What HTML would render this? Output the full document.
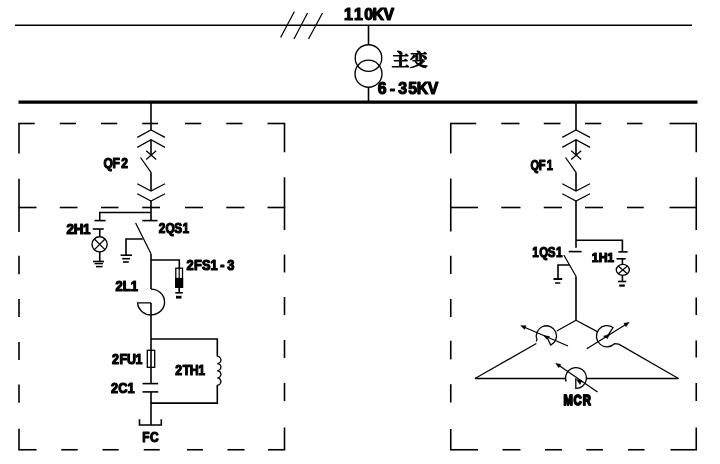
<!DOCTYPE html>
<html lang="zh">
<head>
<meta charset="utf-8">
<title>MCR</title>
<style>
html,body{margin:0;padding:0;background:#fff;}
body{width:720px;height:464px;overflow:hidden;}
svg{display:block;will-change:transform;}
svg line,svg polyline,svg path,svg ellipse,svg rect,svg polygon{stroke:#000;}
svg text{paint-order:stroke fill;}
.lb{font-family:"Liberation Sans","Noto Sans CJK SC",sans-serif;font-weight:bold;fill:#000;stroke:#000;stroke-linejoin:round;}
.cj{font-family:"Liberation Serif","Noto Serif CJK SC","Noto Sans CJK SC",serif;font-weight:bold;fill:#000;stroke:#000;stroke-linejoin:round;}
</style>
</head>
<body>
<svg width="720" height="464" viewBox="0 0 720 464">
<rect x="0" y="0" width="720" height="464" fill="#fff" stroke="none" style="stroke:none"/>
<g stroke-linecap="butt" stroke-linejoin="miter">
<line x1="15" y1="25.2" x2="692" y2="25.2" stroke-width="1.6"/>
<line x1="18.5" y1="102.1" x2="697.5" y2="102.1" stroke-width="3.2"/>
<line x1="280.6" y1="37.5" x2="294.4" y2="11.5" stroke-width="1.25"/>
<line x1="294" y1="39" x2="307.5" y2="13" stroke-width="1.25"/>
<line x1="308.5" y1="39" x2="322.5" y2="13" stroke-width="1.25"/>
<line x1="368.5" y1="25" x2="368.5" y2="44.5" stroke-width="1.6"/>
<ellipse cx="368.5" cy="58" rx="13.3" ry="13.3" stroke-width="1.35" fill="none"/>
<ellipse cx="368.5" cy="73.7" rx="13.5" ry="13.5" stroke-width="1.35" fill="none"/>
<line x1="368.5" y1="87.3" x2="368.5" y2="101" stroke-width="1.6"/>
<line x1="18.3" y1="123.5" x2="34.75" y2="123.5" stroke-width="1.6"/>
<line x1="59.75" y1="123.5" x2="76" y2="123.5" stroke-width="1.6"/>
<line x1="101" y1="123.5" x2="117.25" y2="123.5" stroke-width="1.6"/>
<line x1="142.25" y1="123.5" x2="158" y2="123.5" stroke-width="1.6"/>
<line x1="185" y1="123.5" x2="201.25" y2="123.5" stroke-width="1.6"/>
<line x1="226.25" y1="123.5" x2="242.5" y2="123.5" stroke-width="1.6"/>
<line x1="267.5" y1="123.5" x2="285.2" y2="123.5" stroke-width="1.6"/>
<line x1="18.3" y1="207.5" x2="36.5" y2="207.5" stroke-width="1.6"/>
<line x1="59.75" y1="207.5" x2="77.5" y2="207.5" stroke-width="1.6"/>
<line x1="101" y1="207.5" x2="118.5" y2="207.5" stroke-width="1.6"/>
<line x1="142.25" y1="207.5" x2="160" y2="207.5" stroke-width="1.6"/>
<line x1="185" y1="207.5" x2="203" y2="207.5" stroke-width="1.6"/>
<line x1="226.25" y1="207.5" x2="244.5" y2="207.5" stroke-width="1.6"/>
<line x1="267.5" y1="207.5" x2="285.2" y2="207.5" stroke-width="1.6"/>
<line x1="18.3" y1="449.75" x2="36.5" y2="449.75" stroke-width="1.6"/>
<line x1="61.25" y1="449.75" x2="77.75" y2="449.75" stroke-width="1.6"/>
<line x1="102.5" y1="449.75" x2="118.75" y2="449.75" stroke-width="1.6"/>
<line x1="143.75" y1="449.75" x2="159.75" y2="449.75" stroke-width="1.6"/>
<line x1="187" y1="449.75" x2="203" y2="449.75" stroke-width="1.6"/>
<line x1="227.5" y1="449.75" x2="244.5" y2="449.75" stroke-width="1.6"/>
<line x1="268" y1="449.75" x2="285.2" y2="449.75" stroke-width="1.6"/>
<line x1="19" y1="123.5" x2="19" y2="153.5" stroke-width="1.6"/>
<line x1="19" y1="178.75" x2="19" y2="232" stroke-width="1.6"/>
<line x1="19" y1="255.75" x2="19" y2="274.25" stroke-width="1.6"/>
<line x1="19" y1="299" x2="19" y2="317" stroke-width="1.6"/>
<line x1="19" y1="342" x2="19" y2="360" stroke-width="1.6"/>
<line x1="19" y1="384.5" x2="19" y2="402.75" stroke-width="1.6"/>
<line x1="19" y1="428.75" x2="19" y2="449.75" stroke-width="1.6"/>
<line x1="284.5" y1="123.5" x2="284.5" y2="152.25" stroke-width="1.6"/>
<line x1="284.5" y1="177.25" x2="284.5" y2="230" stroke-width="1.6"/>
<line x1="284.5" y1="254.5" x2="284.5" y2="272.5" stroke-width="1.6"/>
<line x1="284.5" y1="297" x2="284.5" y2="315" stroke-width="1.6"/>
<line x1="284.5" y1="340" x2="284.5" y2="358" stroke-width="1.6"/>
<line x1="284.5" y1="383" x2="284.5" y2="401" stroke-width="1.6"/>
<line x1="284.5" y1="427.5" x2="284.5" y2="449.75" stroke-width="1.6"/>
<line x1="450.05" y1="123.5" x2="476.25" y2="123.5" stroke-width="1.6"/>
<line x1="501.25" y1="123.5" x2="519.5" y2="123.5" stroke-width="1.6"/>
<line x1="543.75" y1="123.5" x2="560.5" y2="123.5" stroke-width="1.6"/>
<line x1="585" y1="123.5" x2="601.25" y2="123.5" stroke-width="1.6"/>
<line x1="627" y1="123.5" x2="642.5" y2="123.5" stroke-width="1.6"/>
<line x1="669.5" y1="123.5" x2="696.95" y2="123.5" stroke-width="1.6"/>
<line x1="450.05" y1="207.5" x2="478" y2="207.5" stroke-width="1.6"/>
<line x1="501.25" y1="207.5" x2="520.5" y2="207.5" stroke-width="1.6"/>
<line x1="543.75" y1="207.5" x2="562" y2="207.5" stroke-width="1.6"/>
<line x1="585" y1="207.5" x2="603" y2="207.5" stroke-width="1.6"/>
<line x1="627" y1="207.5" x2="643.75" y2="207.5" stroke-width="1.6"/>
<line x1="669.5" y1="207.5" x2="696.95" y2="207.5" stroke-width="1.6"/>
<line x1="450.05" y1="449.75" x2="478" y2="449.75" stroke-width="1.6"/>
<line x1="502.5" y1="449.75" x2="520.5" y2="449.75" stroke-width="1.6"/>
<line x1="545" y1="449.75" x2="562" y2="449.75" stroke-width="1.6"/>
<line x1="586.25" y1="449.75" x2="603" y2="449.75" stroke-width="1.6"/>
<line x1="628" y1="449.75" x2="644.5" y2="449.75" stroke-width="1.6"/>
<line x1="670.5" y1="449.75" x2="696.95" y2="449.75" stroke-width="1.6"/>
<line x1="450.75" y1="123.5" x2="450.75" y2="153.5" stroke-width="1.6"/>
<line x1="450.75" y1="178.5" x2="450.75" y2="231.5" stroke-width="1.6"/>
<line x1="450.75" y1="255.75" x2="450.75" y2="274" stroke-width="1.6"/>
<line x1="450.75" y1="299" x2="450.75" y2="317" stroke-width="1.6"/>
<line x1="450.75" y1="340.75" x2="450.75" y2="359.4" stroke-width="1.6"/>
<line x1="450.75" y1="384.25" x2="450.75" y2="402.5" stroke-width="1.6"/>
<line x1="450.75" y1="429" x2="450.75" y2="449.75" stroke-width="1.6"/>
<line x1="696.25" y1="123.5" x2="696.25" y2="152.25" stroke-width="1.6"/>
<line x1="696.25" y1="177.25" x2="696.25" y2="230" stroke-width="1.6"/>
<line x1="696.25" y1="254.5" x2="696.25" y2="272.5" stroke-width="1.6"/>
<line x1="696.25" y1="297.5" x2="696.25" y2="315" stroke-width="1.6"/>
<line x1="696.25" y1="340.5" x2="696.25" y2="357.5" stroke-width="1.6"/>
<line x1="696.25" y1="383" x2="696.25" y2="401" stroke-width="1.6"/>
<line x1="696.25" y1="427.5" x2="696.25" y2="449.75" stroke-width="1.6"/>
<line x1="151" y1="102" x2="151" y2="130" stroke-width="1.6"/>
<polyline points="137.3,137.4 151,130 165,137.4" stroke-width="1.25" fill="none"/>
<polyline points="137.3,147.4 151,139.8 165,147.4" stroke-width="1.25" fill="none"/>
<line x1="151" y1="139.8" x2="151" y2="155" stroke-width="1.6"/>
<line x1="146.2" y1="150.7" x2="156.2" y2="159.5" stroke-width="1.25"/>
<line x1="156.2" y1="150.7" x2="146.2" y2="159.5" stroke-width="1.25"/>
<line x1="140.5" y1="157.5" x2="151" y2="172.3" stroke-width="1.25"/>
<line x1="151" y1="172.3" x2="151" y2="191" stroke-width="1.6"/>
<polyline points="137.3,183.7 151,191 165,183.7" stroke-width="1.25" fill="none"/>
<polyline points="137.3,193.7 151,201 165,193.7" stroke-width="1.25" fill="none"/>
<line x1="151" y1="201" x2="151" y2="220.6" stroke-width="1.6"/>
<line x1="576" y1="102" x2="576" y2="130" stroke-width="1.6"/>
<polyline points="562.3,137.4 576,130 590,137.4" stroke-width="1.25" fill="none"/>
<polyline points="562.3,147.4 576,139.8 590,147.4" stroke-width="1.25" fill="none"/>
<line x1="576" y1="139.8" x2="576" y2="155" stroke-width="1.6"/>
<line x1="571.2" y1="150.7" x2="581.2" y2="159.5" stroke-width="1.25"/>
<line x1="581.2" y1="150.7" x2="571.2" y2="159.5" stroke-width="1.25"/>
<line x1="565.5" y1="157.5" x2="576" y2="172.3" stroke-width="1.25"/>
<line x1="576" y1="172.3" x2="576" y2="191" stroke-width="1.6"/>
<polyline points="562.3,183.7 576,191 590,183.7" stroke-width="1.25" fill="none"/>
<polyline points="562.3,193.7 576,201 590,193.7" stroke-width="1.25" fill="none"/>
<line x1="576" y1="201" x2="576" y2="247.8" stroke-width="1.6"/>
<line x1="142.25" y1="220.6" x2="157.5" y2="220.6" stroke-width="1.6"/>
<polyline points="151,212.5 99.75,212.5 99.75,220.6" stroke-width="1.6" fill="none"/>
<line x1="94.4" y1="220.6" x2="105.6" y2="220.6" stroke-width="1.6"/>
<line x1="92.75" y1="229" x2="103.75" y2="229" stroke-width="1.6"/>
<line x1="99.75" y1="229" x2="99.75" y2="236.2" stroke-width="1.6"/>
<ellipse cx="99.6" cy="244.3" rx="7.6" ry="7.6" stroke-width="1.35" fill="none"/>
<line x1="94.4" y1="239" x2="105" y2="249.6" stroke-width="1.25"/>
<line x1="105" y1="239" x2="94.4" y2="249.6" stroke-width="1.25"/>
<line x1="99.75" y1="252" x2="99.75" y2="261.5" stroke-width="1.6"/>
<line x1="93" y1="261.5" x2="104" y2="261.5" stroke-width="1.6"/>
<line x1="94.5" y1="263.6" x2="103" y2="263.6" stroke-width="1.4"/>
<line x1="96" y1="266.6" x2="102.5" y2="266.6" stroke-width="1.6"/>
<line x1="135.6" y1="223" x2="151" y2="253.8" stroke-width="1.25"/>
<line x1="151" y1="253.8" x2="151" y2="289" stroke-width="1.6"/>
<polyline points="142.7,239 126,239 126,255.2" stroke-width="1.6" fill="none"/>
<line x1="120.6" y1="255.2" x2="132" y2="255.2" stroke-width="1.6"/>
<line x1="122.2" y1="258.7" x2="130" y2="258.7" stroke-width="1.6"/>
<line x1="123" y1="262" x2="128.8" y2="262" stroke-width="1.6"/>
<polyline points="151,260 179.3,260 179.3,268" stroke-width="1.6" fill="none"/>
<rect x="175.8" y="268.2" width="6.7" height="19" stroke-width="1.3" fill="none"/>
<rect x="175.8" y="278.5" width="6.7" height="8.7" stroke-width="1.3" fill="#000"/>
<line x1="179.2" y1="268" x2="179.2" y2="279" stroke-width="1.2"/>
<line x1="179.2" y1="287" x2="179.2" y2="292.5" stroke-width="1.6"/>
<line x1="175.3" y1="292.8" x2="182.8" y2="292.8" stroke-width="1.6"/>
<line x1="176" y1="297.2" x2="181.5" y2="297.2" stroke-width="2.8"/>
<path d="M151,289.1 A13.5,12.9 0 1 1 137.6,302.9 L151,302.9" stroke-width="1.35" fill="none"/>
<line x1="151" y1="302.8" x2="151" y2="383.6" stroke-width="1.6"/>
<rect x="147.3" y="350.3" width="7.4" height="17" stroke-width="1.3" fill="none"/>
<line x1="142.5" y1="383.6" x2="158.2" y2="383.6" stroke-width="1.6"/>
<line x1="142.5" y1="391.9" x2="158.2" y2="391.9" stroke-width="1.6"/>
<line x1="151" y1="391.9" x2="151" y2="425" stroke-width="1.6"/>
<polyline points="139.5,419.3 139.5,425 161.3,425 161.3,419.3" stroke-width="1.6" fill="none"/>
<polyline points="151,339 217.3,339 217.3,356.3" stroke-width="1.6" fill="none"/>
<path d="M217.3,356.3 a3.6,3.6 0 0 1 0,7.2 a3.6,3.6 0 0 1 0,7.2 a3.6,3.6 0 0 1 0,7.2 a3.6,3.6 0 0 1 0,7.2" stroke-width="1.35" fill="none"/>
<polyline points="217.3,385.1 217.3,403.1 151,403.1" stroke-width="1.6" fill="none"/>
<line x1="568.7" y1="251.6" x2="581.6" y2="251.6" stroke-width="1.6"/>
<line x1="563.8" y1="255" x2="576" y2="276.3" stroke-width="1.25"/>
<line x1="576" y1="276.3" x2="576" y2="320.5" stroke-width="1.6"/>
<polyline points="569.6,265 558,265 558,278.5" stroke-width="1.6" fill="none"/>
<line x1="553.5" y1="279" x2="562.2" y2="279" stroke-width="2"/>
<line x1="555" y1="283" x2="560.3" y2="283" stroke-width="1.5"/>
<polyline points="576,240.3 622.4,240.3 622.4,251.9" stroke-width="1.6" fill="none"/>
<line x1="618.4" y1="251.9" x2="627.6" y2="251.9" stroke-width="1.6"/>
<line x1="616.5" y1="258.8" x2="625.7" y2="258.8" stroke-width="1.6"/>
<line x1="622.4" y1="258.8" x2="622.4" y2="264.4" stroke-width="1.6"/>
<ellipse cx="622.8" cy="269.9" rx="6.5" ry="5.5" stroke-width="1.35" fill="none"/>
<line x1="618.2" y1="266" x2="627.4" y2="273.8" stroke-width="1.2"/>
<line x1="627.4" y1="266" x2="618.2" y2="273.8" stroke-width="1.2"/>
<line x1="622.4" y1="275.4" x2="622.4" y2="281.5" stroke-width="1.6"/>
<line x1="618" y1="281.5" x2="626.2" y2="281.5" stroke-width="1.6"/>
<line x1="619.2" y1="285.6" x2="624.8" y2="285.6" stroke-width="2.2"/>
<line x1="576" y1="320.3" x2="556.8" y2="331" stroke-width="1.25"/>
<line x1="576" y1="320.3" x2="597.3" y2="331.6" stroke-width="1.25"/>
<path d="M536.3,341.5 L536.91,339.35 A10.1,10.1 0 1 1 550.67,345.05 L547,337" stroke-width="1.3" fill="none"/>
<line x1="536.3" y1="343.5" x2="475" y2="378.5" stroke-width="1.25"/>
<line x1="568" y1="346" x2="524.46" y2="327.26" stroke-width="1.25"/>
<polygon points="520.6,325.6 526.17,325.82 524.59,329.49" fill="#000" stroke-width="0.4"/>
<polygon points="543.6,335.4 549.6,336.6 546.8,339.2" fill="#000" stroke-width="0.5"/>
<path d="M607.2,336.6 L613.08,327.52 A10.6,10.6 0 1 0 614.5,343.7 L618.8,344.2 L678.5,378.5" stroke-width="1.3" fill="none"/>
<line x1="586.8" y1="348.7" x2="625.73" y2="324.52" stroke-width="1.25"/>
<polygon points="629.3,322.3 625.94,326.74 623.83,323.34" fill="#000" stroke-width="0.4"/>
<polygon points="603.5,336.2 609.5,334.2 607.5,338.6" fill="#000" stroke-width="0.5"/>
<line x1="475" y1="378.5" x2="565.2" y2="378.5" stroke-width="1.6"/>
<line x1="586" y1="378.5" x2="678.5" y2="378.5" stroke-width="1.6"/>
<path d="M565.2,378.5 L566.23,381.56 A10.4,10.4 0 1 1 575.82,388.4 L575.8,378.2" stroke-width="1.3" fill="none"/>
<line x1="597.5" y1="392" x2="559.06" y2="365.58" stroke-width="1.25"/>
<polygon points="555.6,363.2 561.02,364.5 558.75,367.79" fill="#000" stroke-width="0.4"/>
<polygon points="576.5,379.5 582,380.5 580,384.5" fill="#000" stroke-width="0.5"/>
</g>
<g>
<text class="lb" transform="scale(1.0159,1)" x="338.58 348.44 358.62 366.76 377.44" y="20.3" font-size="15.65" stroke-width="1.2">110KV</text>
<text class="lb" transform="scale(0.9521,1)" x="396.71 409.27 418.25 428.86 437.8 449.4" y="94.4" font-size="16.67" stroke-width="1.2">6-35KV</text>
<text class="lb" transform="scale(0.81,1)" x="127.72 138.93 149.81" y="168.4" font-size="14.93" stroke-width="1.2">QF2</text>
<text class="lb" transform="scale(0.9433,1)" x="70.5 78.16 87.92" y="234.3" font-size="14.2" stroke-width="1.2">2H1</text>
<text class="lb" transform="scale(0.8425,1)" x="188.55 196.46 206.77 216.72" y="233.2" font-size="14.06" stroke-width="1.2">2QS1</text>
<text class="lb" transform="scale(0.9365,1)" x="123.44 131.07 139.71" y="291.2" font-size="13.91" stroke-width="1.2">2L1</text>
<text class="lb" transform="scale(0.9216,1)" x="202.4 210.58 219.25 228.51 239.13 246.47" y="269.9" font-size="13.91" stroke-width="1.2">2FS1-3</text>
<text class="lb" transform="scale(0.8953,1)" x="125.25 133.48 141.77 151.49" y="364.0" font-size="13.91" stroke-width="1.2">2FU1</text>
<text class="lb" transform="scale(0.8575,1)" x="204.33 212.99 221.3 231.29" y="375.2" font-size="14.35" stroke-width="1.2">2TH1</text>
<text class="lb" transform="scale(0.884,1)" x="125.52 133.65 144.12" y="393.3" font-size="14.49" stroke-width="1.2">2C1</text>
<text class="lb" transform="scale(0.8412,1)" x="169.17 178.3" y="442.0" font-size="14.2" stroke-width="1.2">FC</text>
<text class="lb" transform="scale(0.76,1)" x="697.97 708.95 719.28" y="170.4" font-size="14.64" stroke-width="1.2">QF1</text>
<text class="lb" transform="scale(0.7566,1)" x="703.56 712.59 723.88 734.79" y="257.2" font-size="15.36" stroke-width="1.2">1QS1</text>
<text class="lb" transform="scale(0.9953,1)" x="594.62 601.6 610.09" y="262.5" font-size="12.17" stroke-width="1.2">1H1</text>
<text class="lb" transform="scale(0.7773,1)" x="724.81 737.72 749.73" y="405.1" font-size="14.49" stroke-width="1.8">MCR</text>
<text class="cj" x="391.6" y="66" font-size="17.5" stroke-width="0.8" textLength="36.2" lengthAdjust="spacingAndGlyphs">主变</text>
</g>
</svg>
</body>
</html>
